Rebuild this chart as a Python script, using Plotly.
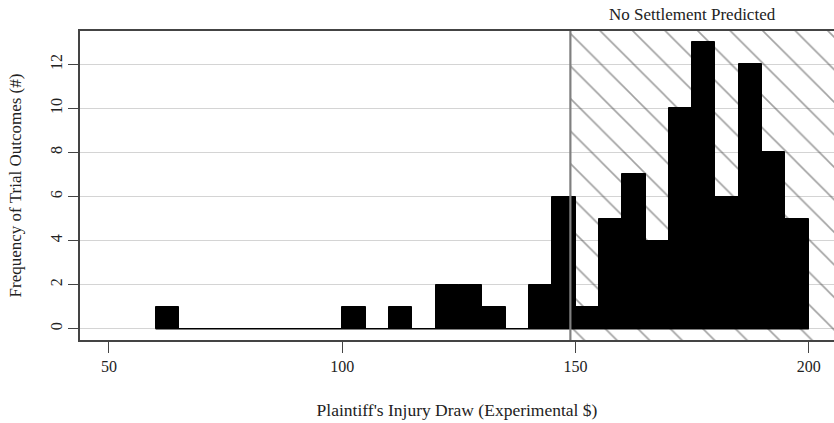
import plotly.graph_objects as go

# Histogram bins (left edges, width 5) and counts
bin_left = [60, 65, 70, 75, 80, 85, 90, 95, 100, 105, 110, 115, 120, 125, 130,
            135, 140, 145, 150, 155, 160, 165, 170, 175, 180, 185, 190, 195]
counts = [1, 0, 0, 0, 0, 0, 0, 0, 1, 0, 1, 0, 2, 2, 1,
          0, 2, 6, 1, 5, 7, 4, 10, 13, 6, 12, 8, 5]
bin_width = 5

threshold = 148.9
x_ticks = [50, 100, 150, 200]
y_ticks = [0, 2, 4, 6, 8, 10, 12]
x_range = [43.8, 205.4]
y_range = [-0.51, 13.51]

FONT = "Liberation Serif"

fig = go.Figure()

# Hatched "No Settlement Predicted" region
fig.add_trace(go.Bar(
    x=[(threshold + x_range[1]) / 2],
    y=[y_range[1] - y_range[0]],
    base=[y_range[0]],
    width=[x_range[1] - threshold],
    marker=dict(
        color="rgba(0,0,0,0)",
        line=dict(width=0),
        pattern=dict(shape="\\", size=23, solidity=0.07,
                     fgcolor="#444444", bgcolor="rgba(0,0,0,0)",
                     fillmode="overlay"),
    ),
    hoverinfo="skip",
    showlegend=False,
))

# Histogram baseline (zero-height bins)
fig.add_trace(go.Scatter(
    x=[bin_left[0], bin_left[-1] + bin_width],
    y=[0, 0],
    mode="lines",
    line=dict(color="black", width=1.5),
    hoverinfo="skip",
    showlegend=False,
))

# Histogram bars
fig.add_trace(go.Bar(
    x=[b + bin_width / 2 for b in bin_left],
    y=counts,
    width=[bin_width] * len(bin_left),
    marker=dict(color="black", line=dict(color="black", width=1)),
    showlegend=False,
))

fig.add_shape(type="line", xref="x", yref="paper",
              x0=threshold, x1=threshold, y0=0, y1=1,
              line=dict(color="#808080", width=2.2), layer="above")

fig.add_annotation(text="No Settlement Predicted", x=175, xref="x",
                   y=1, yref="paper", yanchor="bottom", yshift=5,
                   showarrow=False,
                   font=dict(family=FONT, size=17, color="#222"))

fig.update_layout(
    width=834, height=423,
    margin=dict(l=80, r=0, t=31, b=83, autoexpand=False),
    paper_bgcolor="white", plot_bgcolor="white",
    barmode="overlay", bargap=0,
    font=dict(family=FONT, size=16, color="#222"),
    xaxis=dict(
        range=x_range, tickvals=x_ticks, automargin=False,
        showgrid=False, zeroline=False,
        showline=True, mirror=True, linecolor="#444", linewidth=1.5,
        ticks="outside", ticklen=11, tickcolor="#444", tickwidth=1.2,
        tickfont=dict(family=FONT, size=16),
        title=dict(text="Plaintiff's Injury Draw (Experimental $)",
                   font=dict(family=FONT, size=17.5), standoff=30),
    ),
    yaxis=dict(
        range=y_range, tickvals=y_ticks, automargin=False,
        showgrid=True, gridcolor="#d4d4d4", gridwidth=1,
        zeroline=False,
        showline=True, linecolor="#444", linewidth=1.5,
        ticks="outside", ticklen=10, tickcolor="#444", tickwidth=1.2,
        tickangle=-90,
        tickfont=dict(family=FONT, size=16),
        title=dict(text="Frequency of Trial Outcomes (#)",
                   font=dict(family=FONT, size=17), standoff=22),
    ),
)

fig.write_html("out.html",
               config={"displayModeBar": False},
               post_script="document.body.style.margin='0';"
                           "document.body.style.overflow='hidden';")
